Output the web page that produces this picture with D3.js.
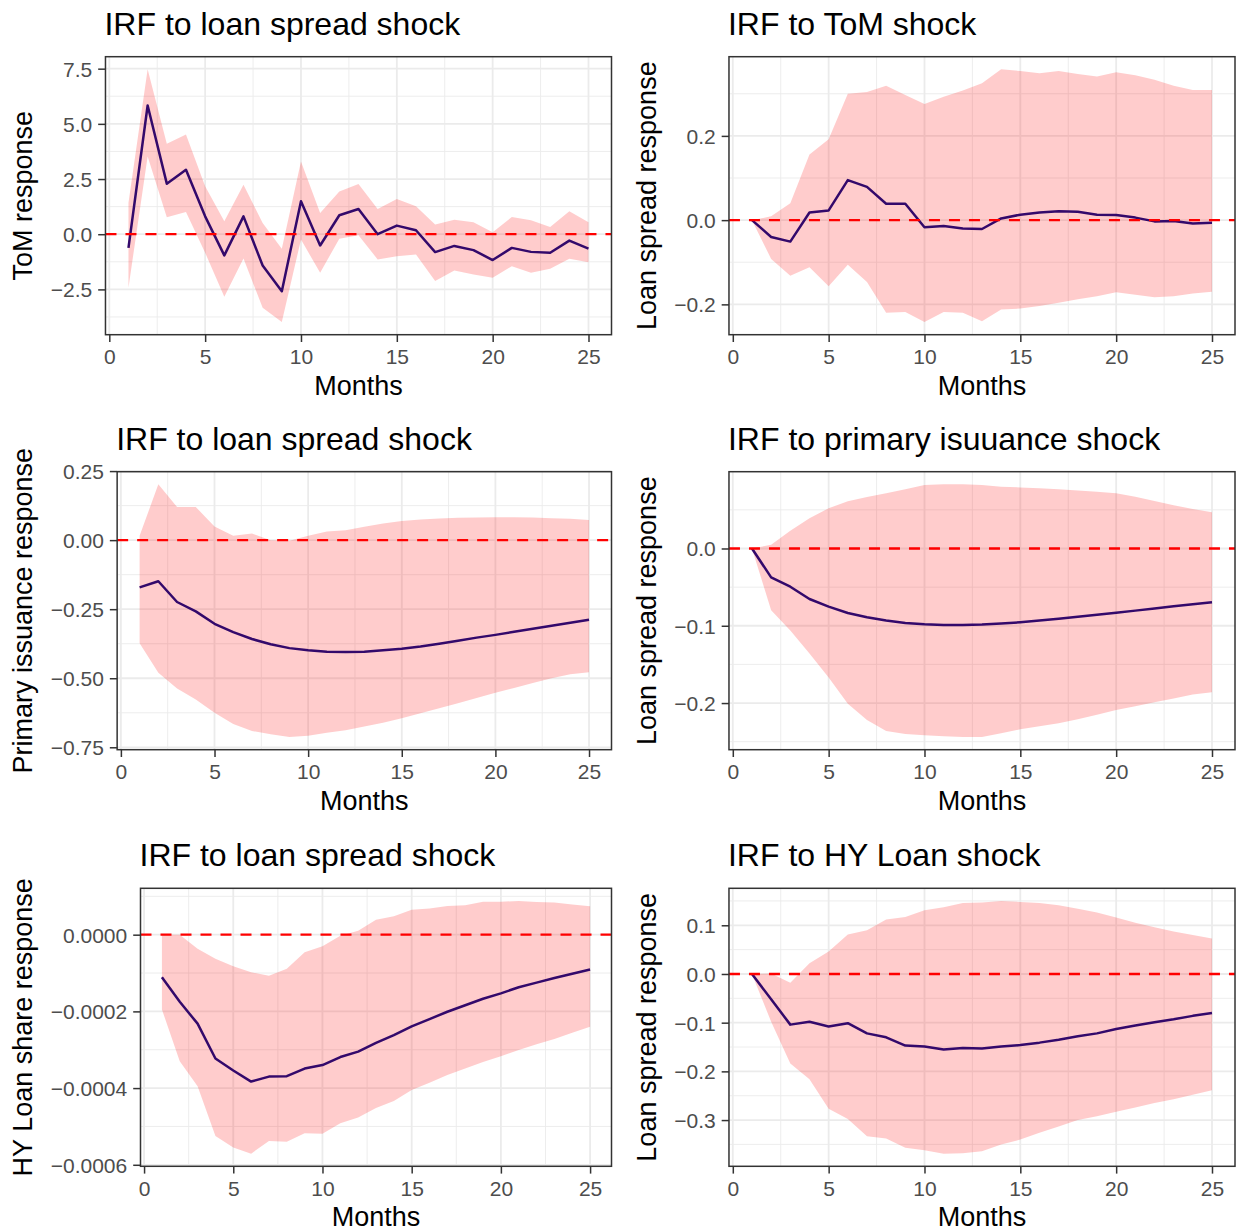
<!DOCTYPE html>
<html>
<head>
<meta charset="utf-8">
<script src="https://cdn.jsdelivr.net/npm/d3@7"></script>
<style>
	body { margin: 0; background: #fff; }
	svg { display: block; font-family: "Liberation Sans", Arial, sans-serif; }
</style>
</head>
<body>
<svg id="svg_main" width="1238" height="1232"></svg>
<script>
const months = [1, 2, 3, 4, 5, 6, 7, 8, 9, 10, 11, 12, 13, 14, 15, 16, 17, 18, 19, 20, 21, 22, 23, 24, 25];
const xTicks = [0, 5, 10, 15, 20, 25];

// ToM response to loan spread shock
const p1Irf = [-0.62, 5.83, 2.29, 2.92, 0.81, -0.96, 0.81, -1.42, -2.58, 1.49, -0.51, 0.86, 1.14, 0.00, 0.39, 0.18, -0.81, -0.53, -0.72, -1.17, -0.62, -0.80, -0.84, -0.29, -0.65];
const p1Lo = [-2.42, 3.52, 0.77, 1.01, -0.84, -2.83, -1.10, -3.33, -3.98, -0.24, -1.75, -0.20, -0.05, -1.14, -1.00, -0.92, -2.12, -1.64, -1.82, -1.97, -1.45, -1.75, -1.57, -1.11, -1.27];
const p1Hi = [1.42, 7.47, 4.10, 4.52, 2.17, 0.59, 2.24, 0.51, -0.66, 3.30, 0.96, 1.94, 2.27, 1.14, 1.60, 1.27, 0.44, 0.66, 0.54, 0.09, 0.78, 0.63, 0.33, 1.04, 0.54];
const p1Ticks = [-2.5, 0, 2.5, 5, 7.5];

// Loan spread response to ToM shock
const p2Irf = [0, -0.040, -0.051, 0.018, 0.023, 0.095, 0.079, 0.039, 0.039, -0.017, -0.014, -0.020, -0.021, 0.004, 0.013, 0.018, 0.021, 0.020, 0.013, 0.012, 0.006, -0.003, -0.002, -0.008, -0.006];
const p2Lo = [0, -0.092, -0.132, -0.112, -0.157, -0.106, -0.147, -0.220, -0.218, -0.242, -0.218, -0.220, -0.240, -0.212, -0.210, -0.204, -0.196, -0.188, -0.181, -0.171, -0.177, -0.183, -0.181, -0.174, -0.170];
const p2Hi = [0, 0.009, 0.040, 0.156, 0.192, 0.300, 0.304, 0.319, 0.297, 0.276, 0.293, 0.308, 0.325, 0.358, 0.354, 0.349, 0.354, 0.347, 0.341, 0.351, 0.344, 0.333, 0.319, 0.309, 0.309];
const p2Ticks = [-0.2, 0, 0.2];

// Primary issuance response to loan spread shock
const p3Irf = [-0.171, -0.149, -0.224, -0.258, -0.303, -0.333, -0.358, -0.377, -0.391, -0.399, -0.404, -0.405, -0.404, -0.399, -0.393, -0.385, -0.375, -0.364, -0.353, -0.343, -0.332, -0.321, -0.310, -0.299, -0.288];
const p3Lo = [-0.373, -0.480, -0.537, -0.577, -0.625, -0.666, -0.691, -0.703, -0.713, -0.708, -0.697, -0.688, -0.675, -0.661, -0.645, -0.627, -0.609, -0.591, -0.572, -0.553, -0.535, -0.517, -0.500, -0.486, -0.478];
const p3Hi = [0.016, 0.202, 0.120, 0.120, 0.049, 0.016, 0.024, 0.000, -0.002, 0.016, 0.031, 0.036, 0.048, 0.060, 0.069, 0.075, 0.078, 0.081, 0.082, 0.083, 0.083, 0.082, 0.079, 0.077, 0.073];
const p3Ticks = [-0.75, -0.5, -0.25, 0, 0.25];

// Loan spread response to primary issuance shock
const p4Irf = [0, -0.0374, -0.0495, -0.0654, -0.0753, -0.0834, -0.0890, -0.0933, -0.0963, -0.0980, -0.0989, -0.0989, -0.0985, -0.0972, -0.0955, -0.0933, -0.0908, -0.0882, -0.0856, -0.0830, -0.0804, -0.0778, -0.0748, -0.0723, -0.0697];
const p4Lo = [0, -0.080, -0.106, -0.136, -0.167, -0.201, -0.222, -0.236, -0.240, -0.2415, -0.243, -0.244, -0.244, -0.239, -0.234, -0.230, -0.226, -0.221, -0.215, -0.209, -0.204, -0.199, -0.194, -0.189, -0.186];
const p4Hi = [0, 0.0047, 0.0228, 0.039, 0.052, 0.061, 0.0667, 0.0714, 0.0766, 0.082, 0.083, 0.083, 0.082, 0.080, 0.079, 0.078, 0.0766, 0.075, 0.0735, 0.0714, 0.067, 0.0615, 0.056, 0.051, 0.047];
const p4Ticks = [-0.2, -0.1, 0];

// HY loan share response to loan spread shock
const p5Irf = [-0.000111, -0.000175, -0.000232, -0.000323, -0.000354, -0.000383, -0.000370, -0.000369, -0.000349, -0.000340, -0.000319, -0.000305, -0.000282, -0.000262, -0.000239, -0.000220, -0.000201, -0.000184, -0.000167, -0.000153, -0.000137, -0.000125, -0.000113, -0.000102, -0.000091];
const p5Lo = [-0.000195, -0.000330, -0.000395, -0.000525, -0.000555, -0.000571, -0.000538, -0.000540, -0.000518, -0.000519, -0.000492, -0.000477, -0.000452, -0.000434, -0.000405, -0.000386, -0.000366, -0.000349, -0.000332, -0.000317, -0.000301, -0.000286, -0.000272, -0.000256, -0.000240];
const p5Hi = [0, 0, -0.000037, -0.000063, -0.000082, -0.000098, -0.000107, -0.000089, -0.000046, -0.000030, -0.000003, 0.000010, 0.000039, 0.000048, 0.000065, 0.000068, 0.000075, 0.000077, 0.000086, 0.000086, 0.000088, 0.000085, 0.000084, 0.000079, 0.000074];
const p5Ticks = [-0.0006, -0.0004, -0.0002, 0];

// Loan spread response to HY loan shock
const p6Irf = [0, -0.052, -0.104, -0.098, -0.108, -0.101, -0.122, -0.130, -0.147, -0.149, -0.155, -0.152, -0.153, -0.149, -0.146, -0.141, -0.135, -0.128, -0.122, -0.113, -0.106, -0.099, -0.093, -0.086, -0.080];
const p6Lo = [0, -0.098, -0.184, -0.216, -0.277, -0.298, -0.333, -0.338, -0.357, -0.362, -0.369, -0.368, -0.364, -0.350, -0.340, -0.326, -0.313, -0.300, -0.292, -0.283, -0.274, -0.265, -0.257, -0.248, -0.239];
const p6Hi = [0, 0.001, -0.018, 0.022, 0.046, 0.081, 0.090, 0.112, 0.117, 0.131, 0.137, 0.146, 0.147, 0.150, 0.148, 0.146, 0.141, 0.134, 0.126, 0.116, 0.105, 0.096, 0.087, 0.080, 0.073];
const p6Ticks = [-0.3, -0.2, -0.1, 0, 0.1];

const panels = [
	{ col: 0, row: 0, title: "IRF to loan spread shock", ylab: "ToM response", irf: p1Irf, lo: p1Lo, hi: p1Hi, ticks: p1Ticks, fmt: ".1f" },
	{ col: 1, row: 0, title: "IRF to ToM shock", ylab: "Loan spread response", irf: p2Irf, lo: p2Lo, hi: p2Hi, ticks: p2Ticks, fmt: ".1f" },
	{ col: 0, row: 1, title: "IRF to loan spread shock", ylab: "Primary issuance response", irf: p3Irf, lo: p3Lo, hi: p3Hi, ticks: p3Ticks, fmt: ".2f" },
	{ col: 1, row: 1, title: "IRF to primary isuuance shock", ylab: "Loan spread response", irf: p4Irf, lo: p4Lo, hi: p4Hi, ticks: p4Ticks, fmt: ".1f" },
	{ col: 0, row: 2, title: "IRF to loan spread shock", ylab: "HY Loan share response", irf: p5Irf, lo: p5Lo, hi: p5Hi, ticks: p5Ticks, fmt: ".4f" },
	{ col: 1, row: 2, title: "IRF to HY Loan shock", ylab: "Loan spread response", irf: p6Irf, lo: p6Lo, hi: p6Hi, ticks: p6Ticks, fmt: ".1f" }
];

var colX = [0, 623.5],
	rowTop = [56.7, 471.7, 888.3],
	panelH = 278,
	panelRight = 611.5;

var titleSize = 32, axisSize = 27, tickSize = 21;

var svg = d3.select("#svg_main");

function minors(ticks, domain) {
	let step = ticks[1] - ticks[0];
	let out = ticks.map(t => t - step / 2).concat([ticks[ticks.length - 1] + step / 2]);
	return out.filter(v => v > domain[0] && v < domain[1]);
}

function drawPanel(p) {
	var x0 = colX[p.col],
		top = rowTop[p.row],
		bottom = top + panelH,
		right = x0 + panelRight;
	var fmt = d3.format(p.fmt);

	var g = svg.append("g");

	// widest tick label decides where the panel starts
	var probe = g.append("g").attr("font-size", tickSize);
	var labelW = d3.max(p.ticks, t => {
		let n = probe.append("text").text(fmt(t));
		let w = n.node().getComputedTextLength();
		n.remove();
		return w;
	});
	probe.remove();
	var left = x0 + 50 + labelW + 14;

	var xExt = d3.extent(months),
		xPad = (xExt[1] - xExt[0]) * 0.05;
	var yExt = d3.extent(p.lo.concat(p.hi, p.irf, [0])),
		yPad = (yExt[1] - yExt[0]) * 0.05;

	var x = d3.scaleLinear().domain([xExt[0] - xPad, xExt[1] + xPad]).range([left, right]),
		y = d3.scaleLinear().domain([yExt[0] - yPad, yExt[1] + yPad]).range([bottom, top]);

	g.append("rect")
		.attr("x", left)
		.attr("y", top)
		.attr("width", right - left)
		.attr("height", panelH)
		.attr("fill", "#ffffff");

	// grid
	var grid = g.append("g").attr("class", "grid");
	grid.selectAll(".xminor")
		.data(minors(xTicks, x.domain()))
		.enter().append("line")
		.attr("x1", d => x(d)).attr("x2", d => x(d))
		.attr("y1", top).attr("y2", bottom)
		.attr("stroke", "#ebebeb")
		.attr("stroke-width", 0.9);
	grid.selectAll(".yminor")
		.data(minors(p.ticks, y.domain()))
		.enter().append("line")
		.attr("y1", d => y(d)).attr("y2", d => y(d))
		.attr("x1", left).attr("x2", right)
		.attr("stroke", "#ebebeb")
		.attr("stroke-width", 0.9);
	grid.selectAll(".xmajor")
		.data(xTicks)
		.enter().append("line")
		.attr("x1", d => x(d)).attr("x2", d => x(d))
		.attr("y1", top).attr("y2", bottom)
		.attr("stroke", "#ebebeb")
		.attr("stroke-width", 1.8);
	grid.selectAll(".ymajor")
		.data(p.ticks)
		.enter().append("line")
		.attr("y1", d => y(d)).attr("y2", d => y(d))
		.attr("x1", left).attr("x2", right)
		.attr("stroke", "#ebebeb")
		.attr("stroke-width", 1.8);

	var rows = months.map((m, i) => ({ m: m, irf: p.irf[i], lo: p.lo[i], hi: p.hi[i] }));

	g.append("path")
		.datum(rows)
		.attr("fill", "red")
		.attr("fill-opacity", 0.2)
		.attr("d", d3.area().x(d => x(d.m)).y0(d => y(d.lo)).y1(d => y(d.hi)));

	g.append("path")
		.datum(rows)
		.attr("fill", "none")
		.attr("stroke", "#33096b")
		.attr("stroke-width", 2.5)
		.attr("stroke-linejoin", "round")
		.attr("d", d3.line().x(d => x(d.m)).y(d => y(d.irf)));

	g.append("line")
		.attr("x1", left)
		.attr("x2", right)
		.attr("y1", y(0))
		.attr("y2", y(0))
		.attr("stroke", "#ff0000")
		.attr("stroke-width", 2.3)
		.attr("stroke-dasharray", "11,9");

	g.append("rect")
		.attr("x", left)
		.attr("y", top)
		.attr("width", right - left)
		.attr("height", panelH)
		.attr("fill", "none")
		.attr("stroke", "#333333")
		.attr("stroke-width", 1.5);

	// axes
	var xAxis = d3.axisBottom(x).tickValues(xTicks).tickSize(7.3).tickPadding(6).tickFormat(d3.format("d")),
		yAxis = d3.axisLeft(y).tickValues(p.ticks).tickSize(7.3).tickPadding(6).tickFormat(fmt);

	var ax = g.append("g")
		.attr("transform", `translate(0, ${bottom})`)
		.call(xAxis);
	var ay = g.append("g")
		.attr("transform", `translate(${left}, 0)`)
		.call(yAxis);

	[ax, ay].forEach(a => {
		a.select(".domain").remove();
		a.selectAll(".tick line").attr("stroke", "#333333").attr("stroke-width", 1.5);
		a.selectAll(".tick text")
			.attr("fill", "#4d4d4d")
			.attr("font-size", tickSize)
			.attr("font-family", "Liberation Sans, Arial, sans-serif");
	});
	ax.selectAll(".tick text").attr("dy", null).attr("y", 29.5);
	ay.selectAll(".tick text").attr("dy", "0.35em");

	// labels
	g.append("text")
		.attr("x", left - 1)
		.attr("y", top - 22)
		.attr("font-size", titleSize)
		.attr("fill", "#000")
		.text(p.title);

	g.append("text")
		.attr("x", (left + right) / 2)
		.attr("y", bottom + 60)
		.attr("font-size", axisSize)
		.attr("text-anchor", "middle")
		.attr("fill", "#000")
		.text("Months");

	g.append("text")
		.attr("transform", `translate(${x0 + 32}, ${(top + bottom) / 2}) rotate(-90)`)
		.attr("font-size", axisSize)
		.attr("text-anchor", "middle")
		.attr("fill", "#000")
		.text(p.ylab);
}

panels.forEach(drawPanel);
</script>
</body>
</html>
